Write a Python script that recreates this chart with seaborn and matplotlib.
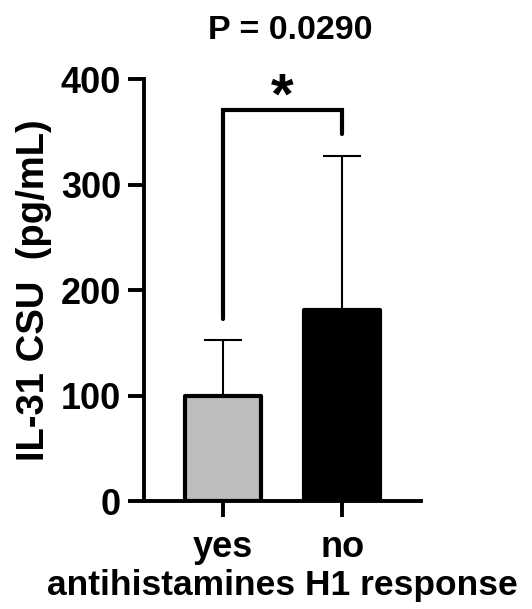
import matplotlib
matplotlib.use("Agg")
import matplotlib.pyplot as plt
import seaborn as sns
import pandas as pd

# values
groups = ["yes", "no"]
means = [100, 181]
sd_upper = [53, 146]
bar_colors = ["#bdbdbd", "#000000"]
p_text = "P = 0.0290"
star_text = "*"
bracket_y = [173, 371, 371, 348]

sns.set_style("ticks")
plt.rcParams["font.family"] = ["Liberation Sans", "DejaVu Sans"]
plt.rcParams["font.weight"] = "bold"
plt.rcParams.update({"text.color": "black", "axes.labelcolor": "black",
                     "xtick.color": "black", "ytick.color": "black",
                     "axes.edgecolor": "black"})

df = pd.DataFrame({"response": groups, "il31": means})

fig = plt.figure(figsize=(5.32, 6.09), dpi=100)
ax = fig.add_axes([0.2707, 0.177, 0.5207, 0.693])

sns.barplot(data=df, x="response", y="il31", hue="response", palette=bar_colors,
            width=0.64, edgecolor="black", linewidth=3, errorbar=None,
            legend=False, ax=ax, zorder=3)
for p in ax.patches:
    p.set_joinstyle("round")

# upward-only SD bars
ax.errorbar(range(len(groups)), means, yerr=[[0, 0], sd_upper], fmt="none",
            ecolor="black", elinewidth=1.5, capsize=14, capthick=1.5, zorder=2)

# significance bracket
ax.plot([0, 0, 1, 1], bracket_y, color="black", lw=3, solid_joinstyle="miter",
        solid_capstyle="round", clip_on=False, zorder=4)
ax.text(0.5, 382, star_text, ha="center", va="center", fontsize=42,
        fontweight="bold")

ax.set_xlim(-0.66, 1.66)
ax.set_ylim(0, 400)
ax.set_yticks([0, 100, 200, 300, 400])
ax.set_ylabel("IL-31 CSU  (pg/mL)", fontsize=27.5, fontweight="bold", labelpad=6)
ax.set_xlabel("antihistamines H1 response", fontsize=25.5, fontweight="bold",
              labelpad=3)
ax.tick_params(axis="both", labelsize=26, width=2.8, length=11.5)
ax.tick_params(axis="x", pad=9)
ax.tick_params(axis="y", pad=5)
for lab in ax.get_xticklabels() + ax.get_yticklabels():
    lab.set_fontweight("bold")

sns.despine(ax=ax)
for s in ["left", "bottom"]:
    ax.spines[s].set_linewidth(2.8)

fig.text(0.545, 0.95, p_text, ha="center", va="center", fontsize=24.5,
         fontweight="bold")

fig.savefig("out.png", dpi=100)
